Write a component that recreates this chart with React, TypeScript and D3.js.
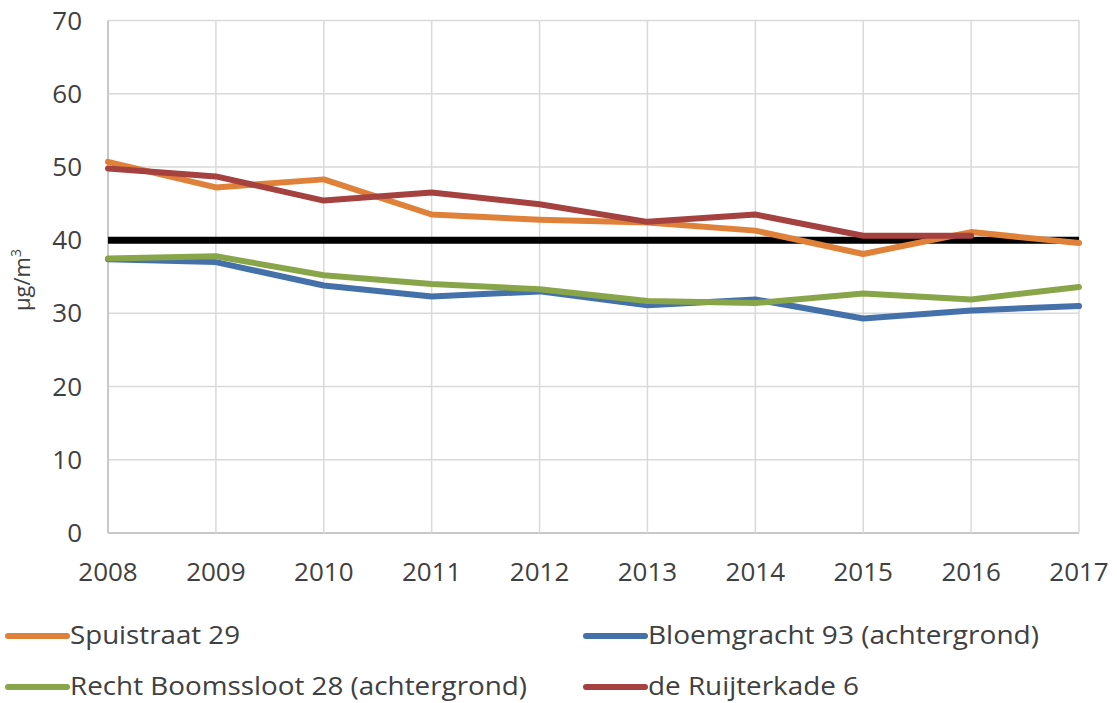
import React from "react";
import * as d3 from "d3";

const years = [2008, 2009, 2010, 2011, 2012, 2013, 2014, 2015, 2016, 2017];
const yTicks = [0, 10, 20, 30, 40, 50, 60, 70];

const spuistraat = [50.7, 47.2, 48.3, 43.5, 42.8, 42.4, 41.3, 38.1, 41.1, 39.6];
const bloemgracht = [37.4, 37.0, 33.8, 32.3, 33.0, 31.1, 31.9, 29.3, 30.4, 31.0];
const boomssloot = [37.5, 37.8, 35.2, 34.0, 33.3, 31.7, 31.4, 32.7, 31.9, 33.6];
const ruijterkade = [49.8, 48.7, 45.4, 46.5, 44.9, 42.5, 43.5, 40.6, 40.6, null];
const norm = [40, 40, 40, 40, 40, 40, 40, 40, 40, 40];

const seriesNames = [
  "Spuistraat 29",
  "Bloemgracht 93 (achtergrond)",
  "Recht Boomssloot 28 (achtergrond)",
  "de Ruijterkade 6",
];
const seriesColors = ["#E0813A", "#4571AA", "#88A549", "#A5413F"];
const seriesValues = [spuistraat, bloemgracht, boomssloot, ruijterkade];

const W = 1117;
const H = 703;
const FONT = "'Open Sans', sans-serif";

export default function App() {
  const x = d3.scaleLinear().domain([2008, 2017]).range([108, 1079]);
  const y = d3.scaleLinear().domain([0, 70]).range([533, 20.5]);

  const line = d3
    .line<number | null>()
    .defined((d) => d != null)
    .x((_, i) => x(years[i]))
    .y((d) => y(d as number));

  const drawOrder = [1, 2, 0, 3];

  const legendItems = [
    { idx: 0, lx: 5, ly: 636, tl: 170 },
    { idx: 1, lx: 583, ly: 636, tl: 391 },
    { idx: 2, lx: 5, ly: 687, tl: 457 },
    { idx: 3, lx: 583, ly: 687, tl: 211 },
  ];

  return (
    <svg
      width={W}
      height={H}
      style={{ position: "absolute", left: 0, top: 0, background: "#fff" }}
    >
      <rect x={0} y={0} width={W} height={H} fill="#fff" />
      {yTicks.map((t) => (
        <line
          key={"gy" + t}
          x1={x(2008)}
          x2={x(2017)}
          y1={y(t)}
          y2={y(t)}
          stroke={t === 0 ? "#C8C8C8" : "#D9D9D9"}
          strokeWidth={t === 0 ? 2 : 1.5}
        />
      ))}
      {years.map((yr) => (
        <line
          key={"gx" + yr}
          x1={x(yr)}
          x2={x(yr)}
          y1={y(70)}
          y2={y(0)}
          stroke={yr === 2008 ? "#C8C8C8" : "#D9D9D9"}
          strokeWidth={yr === 2008 ? 2 : 1.5}
        />
      ))}
      {yTicks.map((t) => (
        <text
          key={"ty" + t}
          x={82}
          y={y(t)}
          dy="0.35em"
          textAnchor="end"
          fontFamily={FONT}
          fontSize={26}
          fill="#404040"
        >
          {t}
        </text>
      ))}
      {years.map((yr) => (
        <text
          key={"tx" + yr}
          x={x(yr)}
          y={572}
          dy="0.35em"
          textAnchor="middle"
          fontFamily={FONT}
          fontSize={26}
          fill="#404040"
        >
          {yr}
        </text>
      ))}
      <text
        transform={`translate(30, 280) rotate(-90)`}
        textAnchor="middle"
        fontFamily={FONT}
        fontSize={22}
        fill="#404040"
      >
        µg/m
        <tspan dy={-9} fontSize={14}>
          3
        </tspan>
      </text>
      <path d={line(norm) || ""} fill="none" stroke="#000" strokeWidth={7} />
      {drawOrder.map((i) => (
        <path
          key={"s" + i}
          d={line(seriesValues[i]) || ""}
          fill="none"
          stroke={seriesColors[i]}
          strokeWidth={6}
          strokeLinejoin="round"
          strokeLinecap="round"
        />
      ))}
      {legendItems.map((it) => (
        <g key={"lg" + it.idx}>
          <line
            x1={it.lx + 3}
            x2={it.lx + 62}
            y1={it.ly}
            y2={it.ly}
            stroke={seriesColors[it.idx]}
            strokeWidth={6}
            strokeLinecap="round"
          />
          <text
            x={it.lx + 65}
            y={it.ly}
            dy="0.33em"
            fontFamily={FONT}
            fontSize={25}
            fill="#404040"
            textLength={it.tl}
            lengthAdjust="spacingAndGlyphs"
          >
            {seriesNames[it.idx]}
          </text>
        </g>
      ))}
    </svg>
  );
}
